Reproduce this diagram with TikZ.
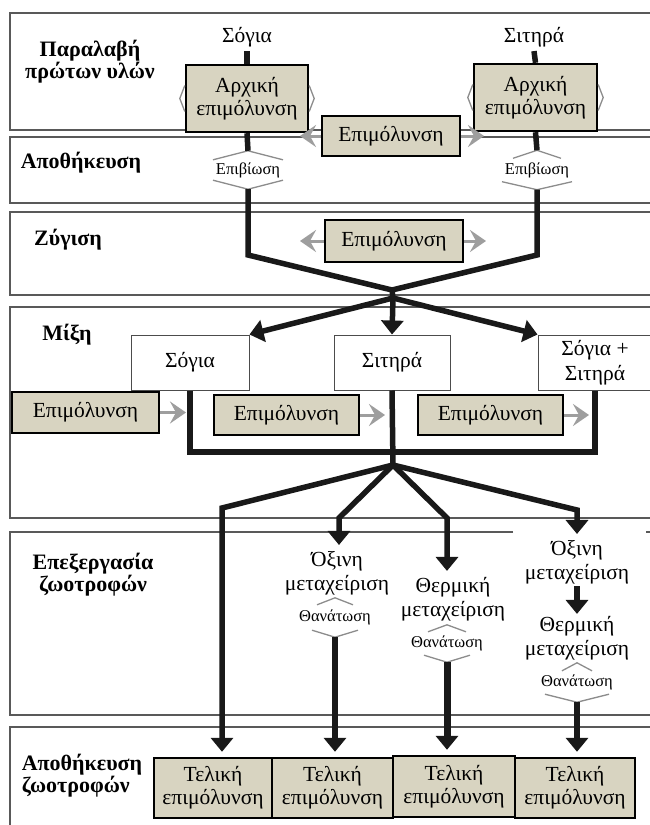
\documentclass[tikz,border=0pt]{standalone}
\usepackage{fontspec}
\setmainfont{Liberation Serif}
\usetikzlibrary{arrows.meta,calc}
\definecolor{boxtan}{RGB}{216,212,193}
\newcommand\hexchev[4]{%
  \draw[chev] ([xshift=-#2pt,yshift=-#4pt]#1.north) -- (#1.north) -- ([xshift=#2pt,yshift=-#4pt]#1.north);
  \draw[chev] ([xshift=-#3pt,yshift=#4pt]#1.south) -- (#1.south) -- ([xshift=#3pt,yshift=#4pt]#1.south);}
\newcommand\sidechev[1]{%
  \draw[chev] ([yshift=13pt]#1.west) -- ([xshift=-5pt]#1.west) -- ([yshift=-13pt]#1.west);
  \draw[chev] ([yshift=13pt]#1.east) -- ([xshift=5pt]#1.east) -- ([yshift=-13pt]#1.east);}
\begin{document}
\begin{tikzpicture}[x=1pt,y=-1pt,
  lane/.style={draw=black!65,line width=1.6pt},
  tanbox/.style={draw=black,line width=2.4pt,fill=boxtan,align=center,inner sep=0pt,font=\fontsize{21.5}{23}\selectfont},
  whitebox/.style={draw=black!70,line width=1pt,fill=white,align=center,inner sep=0pt,font=\fontsize{21.5}{25}\selectfont},
  lbl/.style={font=\bfseries\fontsize{22}{21}\selectfont,align=center},
  txt/.style={font=\fontsize{21.5}{24}\selectfont,align=center,inner sep=0pt},
  small/.style={font=\fontsize{16.5}{18}\selectfont,inner sep=0pt},
  flow/.style={line width=5.5pt,draw=black!90},
  flowarr/.style={flow,-{Triangle[length=14pt,width=22pt]}},
  garr/.style={draw=black!38,line width=3pt,-{Stealth[length=16pt,width=22pt,inset=6pt]}},
  chev/.style={draw=black!45,line width=1.3pt}]
\fill[white] (0,0) rectangle (649,825);
\useasboundingbox (0,0) rectangle (649,825);
% lanes
\draw[lane] (10,13) rectangle (660,130);
\draw[lane] (10,137) rectangle (660,203);
\draw[lane] (10,212) rectangle (660,295);
\draw[lane] (10,307) rectangle (660,518);
\draw[lane] (513,532) -- (10,532) -- (10,715) -- (660,715);
\draw[lane] (646,532) -- (660,532);
\draw[lane] (660,727) -- (10,727) -- (10,840);
% lane labels
\node[lbl] (l1) at (90,62) {Παραλαβή\\πρώτων υλών};
\node[lbl] (l2) at (81,163) {Αποθήκευση};
\node[lbl] (l3) at (68,240) {Ζύγιση};
\node[lbl] (l4) at (67,335) {Μίξη};
\node[lbl] (l5) at (93,575) {Επεξεργασία\\ζωοτροφών};
\node[lbl,align=left] (l6) at (82,776) {Αποθήκευση\\ζωοτροφών};
% top
\node[txt] (soyT) at (247,37) {Σόγια};
\node[txt] (sitT) at (534,37) {Σιτηρά};
\node[tanbox,minimum width=122pt,minimum height=67pt] (a1) at (247,98.5) {Αρχική\\επιμόλυνση};
\node[tanbox,minimum width=123pt,minimum height=67pt] (a2) at (535.5,97.5) {Αρχική\\επιμόλυνση};
\sidechev{a1}
\sidechev{a2}
\node[tanbox,minimum width=138pt,minimum height=40pt] (e1) at (391,136) {Επιμόλυνση};
\coordinate (e1L) at (300,136);
\coordinate (e1R) at (484,136);
\draw[garr] (e1.west) -- (e1L);
\draw[garr] (e1.east) -- (e1R);
\draw[flow] ([yshift=-4pt]soyT.south) -- (a1.north);
\draw[flow] ([yshift=-4pt]sitT.south) -- (a2.north);
% survival
\node[small,minimum width=70pt,minimum height=38pt] (sv1) at (248,170) {Επιβίωση};
\node[small,minimum width=70pt,minimum height=39pt] (sv2) at (537,170) {Επιβίωση};
\hexchev{sv1}{35}{35}{9}
\hexchev{sv2}{24}{35}{8}
\draw[flow] (a1.south) -- (sv1.north);
\draw[flow] (a2.south) -- (sv2.north);
% weighing
\node[tanbox,minimum width=138pt,minimum height=42pt] (e2) at (394,241) {Επιμόλυνση};
\coordinate (e2L) at (300,241);
\coordinate (e2R) at (486,241);
\draw[garr] (e2.west) -- (e2L);
\draw[garr] (e2.east) -- (e2R);
\coordinate (v1) at (248,255);
\coordinate (v2) at (537,255);
\coordinate (vj) at (392,290);
\coordinate (mj) at (393,298);
\draw[flow,line join=miter] (sv1.south) -- (v1) -- (vj) -- (mj);
\draw[flow,line join=miter] (sv2.south) -- (v2) -- (vj);
% mixing
\node[whitebox,minimum width=118pt,minimum height=55pt] (w1) at (190,362.5) {Σόγια};
\node[whitebox,minimum width=116pt,minimum height=55pt] (w2) at (392,362.5) {Σιτηρά};
\node[whitebox,minimum width=114pt,minimum height=55pt] (w3) at (595,362.5) {Σόγια +\\Σιτηρά};
\draw[flowarr] (mj) -- (w1.north east);
\draw[flowarr] (mj) -- (w2.north);
\draw[flowarr] (mj) -- (w3.north west);
\node[tanbox,minimum width=147pt,minimum height=41pt] (m1) at (85.5,412.5) {Επιμόλυνση};
\node[tanbox,minimum width=145pt,minimum height=40pt] (m2) at (286.5,415) {Επιμόλυνση};
\node[tanbox,minimum width=145pt,minimum height=40pt] (m3) at (490.5,415) {Επιμόλυνση};
\coordinate (m1R) at (186,412.5);
\coordinate (m2R) at (385,415);
\coordinate (m3R) at (589,415);
\draw[garr] (m1.east) -- (m1R);
\draw[garr] (m2.east) -- (m2R);
\draw[garr] (m3.east) -- (m3R);
\coordinate (bj) at (393,452);
\coordinate (j2) at (393,465);
\draw[flow,line join=miter] (w1.south) |- (bj) -| (w3.south);
\draw[flow] (w2.south) -- (j2);
% processing
\node[txt] (o1) at (337,573) {Όξινη\\μεταχείριση};
\node[txt] (t1) at (453,599) {Θερμική\\μεταχείριση};
\node[txt] (o2) at (577,562) {Όξινη\\μεταχείριση};
\node[txt] (t2) at (577,638) {Θερμική\\μεταχείριση};
\node[small,minimum width=70pt,minimum height=39pt] (th1) at (335,617.5) {Θανάτωση};
\node[small,minimum width=70pt,minimum height=37pt] (th2) at (447,643.5) {Θανάτωση};
\node[small,minimum width=70pt,minimum height=39pt] (th3) at (577,682.5) {Θανάτωση};
\hexchev{th1}{18}{23}{7}
\hexchev{th2}{19}{23}{7}
\hexchev{th3}{15}{32}{8}
% final storage
\node[tanbox,minimum width=118pt,minimum height=60pt] (f1) at (213,788) {Τελική\\επιμόλυνση};
\node[tanbox,minimum width=121pt,minimum height=60pt] (f2) at (332.5,788) {Τελική\\επιμόλυνση};
\node[tanbox,minimum width=122pt,minimum height=61pt] (f3) at (454,786.5) {Τελική\\επιμόλυνση};
\node[tanbox,minimum width=120pt,minimum height=60pt] (f4) at (575,788) {Τελική\\επιμόλυνση};
\coordinate (k1) at (222,508);
\coordinate (k2) at (339,518);
\coordinate (k3) at (447,518);
\coordinate (k4) at (577,510);
\draw[flowarr,line join=miter] (j2) -- (k1) -- ($(k1 |- f1.north)+(0,-5)$);
\draw[flowarr,line join=miter] (j2) -- (k2) -- ($(k2 |- o1.north)+(0,-6)$);
\draw[flowarr,line join=miter] (j2) -- (k3) -- ($(k3 |- t1.north)+(0,-6)$);
\draw[flowarr,line join=miter] (j2) -- (k4) -- ($(k4 |- o2.north)+(0,-6)$);
\draw[flowarr] ([yshift=-2pt]o2.south) -- ([yshift=2pt]t2.north);
\draw[flowarr] (th1.south) -- ($(th1.south |- f2.north)+(0,-5)$);
\draw[flowarr,line width=7pt] (th2.south) -- ($(th2.south |- f3.north)+(0,-5)$);
\draw[flowarr] (th3.south) -- ($(th3.south |- f4.north)+(0,-5)$);
\end{tikzpicture}
\end{document}
